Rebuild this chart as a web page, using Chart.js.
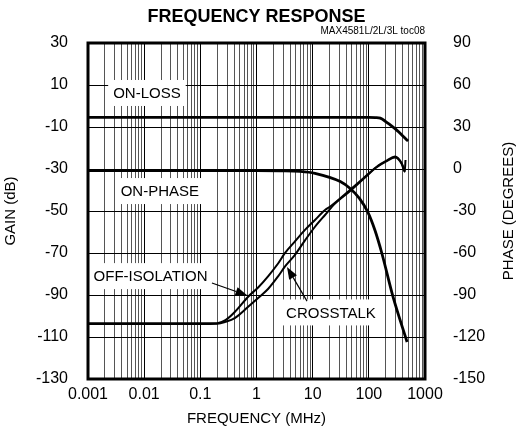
<!DOCTYPE html>
<html>
<head>
<meta charset="utf-8">
<script src="https://cdn.jsdelivr.net/npm/chart.js@4.4.1/dist/chart.umd.min.js"></script>
<style>
html, body { margin: 0; padding: 0; background: #fff; }
#wrap { width: 521px; height: 443px; }
</style>
</head>
<body>
<div id="wrap"><canvas id="freqChart" width="521" height="443"></canvas></div>
<script>
// axis ticks
const freqTickLabels = ["0.001", "0.01", "0.1", "1", "10", "100", "1000"];
const gainTicks = [-130, -110, -90, -70, -50, -30, -10, 10, 30];
const phaseTicks = [-150, -120, -90, -60, -30, 0, 30, 60, 90];

// ON-LOSS (gain, dB)
const onLossFreq = [0.001, 0.01, 0.1, 1, 10, 100, 130, 160, 200, 240, 300, 360, 430, 500];
const onLossGain = [-5.4, -5.4, -5.4, -5.4, -5.4, -5.4, -5.5, -5.8, -7.4, -9, -11, -13, -15, -16.7];

// ON-PHASE (phase, degrees)
const onPhaseFreq = [0.001, 0.1, 1, 2.6, 6, 11, 31, 46, 68, 95, 128, 170, 270, 480];
const onPhase = [-1.2, -1.2, -1.2, -1.3, -1.7, -3.1, -9, -13.8, -21, -30.5, -43.6, -60, -91.4, -123.6];

// OFF-ISOLATION (gain, dB)
const offIsoFreq = [0.001, 0.01, 0.1, 0.2, 0.28, 0.41, 0.71, 1.08, 1.62, 2.44, 3.2, 4.8, 7.3, 11, 16.6, 20.3, 46, 80, 138, 208, 292, 385, 441];
const offIso = [-103.5, -103.5, -103.5, -103.4, -102, -98.1, -90.8, -86.3, -81, -74.9, -70.1, -64.6, -59, -54.3, -49.5, -48, -40, -34.4, -28.9, -26, -24.1, -27.3, -31.3];

// CROSSTALK (gain, dB)
const xtalkFreq = [0.001, 0.01, 0.1, 0.2, 0.28, 0.41, 0.71, 1.08, 1.62, 2.44, 3.2, 4.8, 7.3, 11, 16.6, 25, 46, 80, 138, 208, 292, 385, 435, 450];
const xtalk = [-103.8, -103.8, -103.8, -103.7, -102.8, -101, -95.6, -91.3, -87, -81, -76.5, -71, -64, -57.5, -51.9, -46.5, -40.6, -34.8, -29.2, -26.3, -24.5, -27.6, -31.3, -25.7];

// text labels and arrows (frequency, gain)
const labelNotes = [
    { text: "ON-LOSS", f: 0.0112, v: 6.2 },
    { text: "ON-PHASE", f: 0.019, v: -40.5 },
    { text: "OFF-ISOLATION", f: 0.013, v: -81 },
    { text: "CROSSTALK", f: 21.2, v: -98.3 }
];
const arrowNotes = [
    { from: [0.161, -84.3], to: [0.69, -90.2] },
    { from: [7.93, -92.9], to: [3.49, -76.7] }
];

const FAMILY = "'Liberation Sans', Arial, sans-serif";
const tickFont = { family: FAMILY, size: 16 };
const titleFont = { family: FAMILY, size: 15 };

const pts = (fs, vs) => fs.map((f, i) => ({ x: f, y: vs[i] }));

const isDecade = v => Math.abs(Math.log10(v) - Math.round(Math.log10(v))) < 1e-6;

// grid positions 1..9 in every decade
const xGrid = [];
for (let e = -3; e < 3; e++) {
    for (let d = 1; d < 10; d++) xGrid.push(+(d * Math.pow(10, e)).toPrecision(6));
}
xGrid.push(1000);

const notesPlugin = {
    id: "notes",
    beforeDatasetsDraw(chart) {
        const ctx = chart.ctx;
        const xs = chart.scales.x, ys = chart.scales.gain;
        ctx.save();
        ctx.font = "15px " + FAMILY;
        ctx.textAlign = "center";
        ctx.textBaseline = "middle";
        labelNotes.forEach(n => {
            const cx = xs.getPixelForValue(n.f);
            const cy = ys.getPixelForValue(n.v);
            const w = ctx.measureText(n.text).width;
            ctx.fillStyle = "#fff";
            ctx.fillRect(cx - w / 2 - 5, cy - 13, w + 10, 26);
            ctx.fillStyle = "#000";
            ctx.fillText(n.text, cx, cy + 1);
        });
        ctx.restore();
    },
    afterDatasetsDraw(chart) {
        const ctx = chart.ctx;
        const a = chart.chartArea;
        const xs = chart.scales.x, ys = chart.scales.gain;
        ctx.save();
        ctx.strokeStyle = "#000";
        ctx.fillStyle = "#000";
        ctx.lineWidth = 1.2;
        arrowNotes.forEach(n => {
            const x0 = xs.getPixelForValue(n.from[0]), y0 = ys.getPixelForValue(n.from[1]);
            const x1 = xs.getPixelForValue(n.to[0]), y1 = ys.getPixelForValue(n.to[1]);
            const ang = Math.atan2(y1 - y0, x1 - x0);
            const len = 12, hw = 4.5;
            const bx = x1 - len * Math.cos(ang), by = y1 - len * Math.sin(ang);
            ctx.beginPath();
            ctx.moveTo(x0, y0);
            ctx.lineTo(bx, by);
            ctx.stroke();
            ctx.beginPath();
            ctx.moveTo(x1, y1);
            ctx.lineTo(bx + hw * Math.sin(ang), by - hw * Math.cos(ang));
            ctx.lineTo(bx - hw * Math.sin(ang), by + hw * Math.cos(ang));
            ctx.closePath();
            ctx.fill();
        });
        ctx.lineWidth = 3;
        ctx.strokeRect(a.left, a.top, a.right - a.left, a.bottom - a.top);
        ctx.restore();
    },
    afterDraw(chart) {
        const ctx = chart.ctx;
        const a = chart.chartArea;
        ctx.save();
        ctx.font = "15px " + FAMILY;
        ctx.fillStyle = "#000";
        ctx.textAlign = "center";
        ctx.textBaseline = "middle";
        ctx.translate(chart.width - 12, (a.top + a.bottom) / 2);
        ctx.rotate(-Math.PI / 2);
        ctx.fillText("PHASE (DEGREES)", 0, 0);
        ctx.restore();
    }
};

const lineStyle = {
    borderColor: "#000",
    borderWidth: 2.8,
    pointRadius: 0,
    fill: false,
    cubicInterpolationMode: "monotone"
};

new Chart(document.getElementById("freqChart"), {
    type: "line",
    data: {
        datasets: [
            { ...lineStyle, label: "ON-LOSS", data: pts(onLossFreq, onLossGain), yAxisID: "gain" },
            { ...lineStyle, label: "ON-PHASE", data: pts(onPhaseFreq, onPhase), yAxisID: "phase" },
            { ...lineStyle, label: "OFF-ISOLATION", borderWidth: 2, data: pts(offIsoFreq, offIso), yAxisID: "gain" },
            { ...lineStyle, label: "CROSSTALK", borderWidth: 2, data: pts(xtalkFreq, xtalk), yAxisID: "gain" }
        ]
    },
    options: {
        responsive: false,
        animation: false,
        layout: { padding: 0 },
        plugins: {
            legend: { display: false },
            tooltip: { enabled: false },
            title: {
                display: true,
                text: "FREQUENCY RESPONSE",
                fullSize: false,
                color: "#000",
                font: { family: FAMILY, size: 18, weight: "bold", lineHeight: 0.8 },
                padding: { top: 9.6, bottom: 0 }
            },
            subtitle: {
                display: true,
                text: "MAX4581L/2L/3L toc08",
                fullSize: false,
                align: "end",
                color: "#000",
                font: { family: FAMILY, size: 10, lineHeight: 1 },
                padding: { top: 2, bottom: 7 }
            }
        },
        scales: {
            x: {
                type: "logarithmic",
                position: "bottom",
                min: 0.001,
                max: 1000,
                afterBuildTicks: s => { s.ticks = xGrid.map(v => ({ value: v })); },
                afterFit: s => { s.height = 64; },
                ticks: {
                    autoSkip: false,
                    maxRotation: 0,
                    minRotation: 0,
                    padding: 6,
                    color: "#000",
                    font: tickFont,
                    callback: v => isDecade(v) ? freqTickLabels[Math.round(Math.log10(v)) + 3] : ""
                },
                grid: {
                    drawTicks: false,
                    lineWidth: 1,
                    color: c => (c.tick && isDecade(c.tick.value)) ? "#000" : "#555"
                },
                border: { display: false },
                title: {
                    display: true,
                    text: "FREQUENCY (MHz)",
                    color: "#000",
                    font: titleFont,
                    padding: { top: 0, bottom: 15 }
                }
            },
            gain: {
                type: "linear",
                position: "left",
                min: -130,
                max: 30,
                afterBuildTicks: s => { s.ticks = gainTicks.map(v => ({ value: v })); },
                afterFit: s => { s.width = 88; },
                ticks: { padding: 20, color: "#000", font: tickFont },
                grid: { drawTicks: false, color: "#000", lineWidth: 1 },
                border: { display: false },
                title: {
                    display: true,
                    text: "GAIN (dB)",
                    color: "#000",
                    font: titleFont,
                    padding: { top: 2, bottom: 0 }
                }
            },
            phase: {
                type: "linear",
                position: "right",
                min: -150,
                max: 90,
                afterBuildTicks: s => { s.ticks = phaseTicks.map(v => ({ value: v })); },
                afterFit: s => { s.width = 96; },
                ticks: { padding: 28, color: "#000", font: tickFont },
                grid: { display: false, drawTicks: false },
                border: { display: false }
            }
        }
    },
    plugins: [notesPlugin]
});
</script>
</body>
</html>
